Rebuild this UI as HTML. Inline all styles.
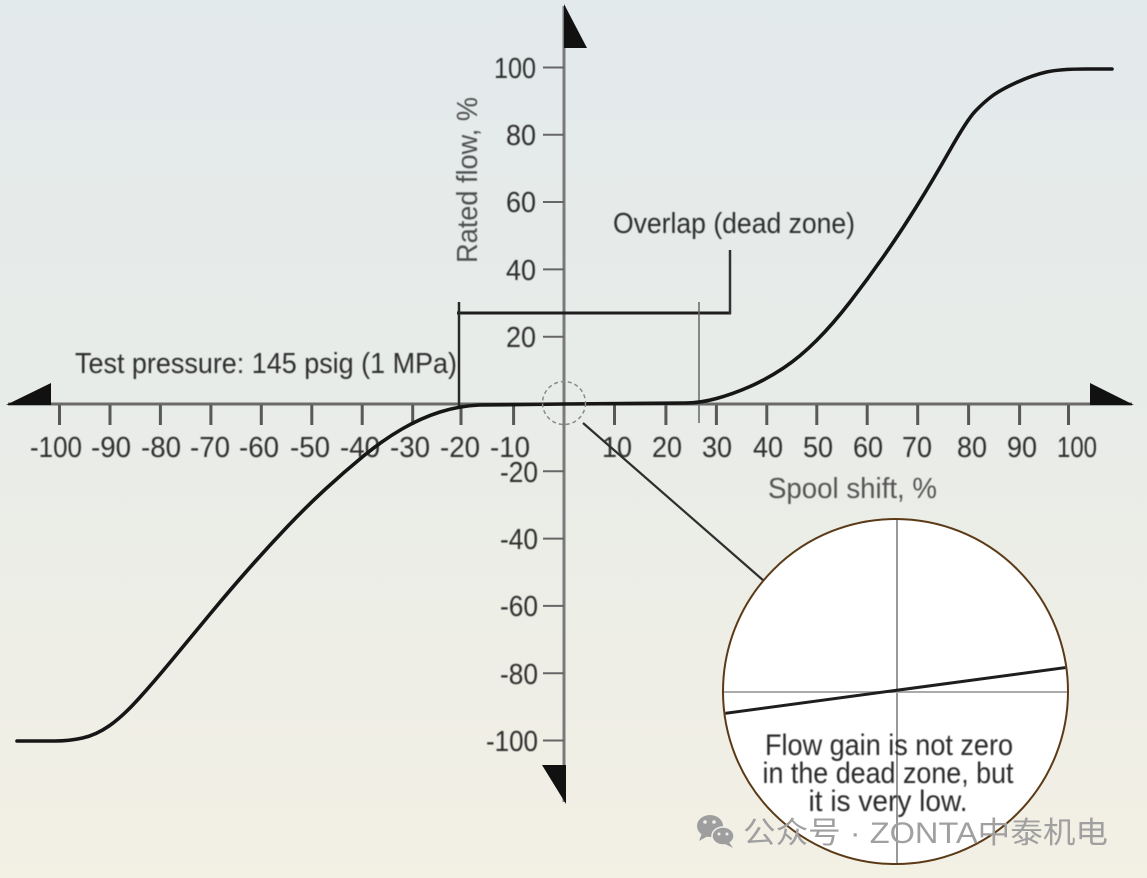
<!DOCTYPE html>
<html><head><meta charset="utf-8"><style>
html,body{margin:0;padding:0;}
body{width:1147px;height:878px;overflow:hidden;background:linear-gradient(180deg,#e3eaec 0%,#e9ece8 50%,#f3f0e4 100%);}
svg{display:block;}
text{font-family:"Liberation Sans","Noto Sans CJK SC",sans-serif;}
</style></head><body>
<svg width="1147" height="878" viewBox="0 0 1147 878" xmlns="http://www.w3.org/2000/svg">
<defs>
<clipPath id="cc"><circle cx="895.5" cy="691.5" r="171.5"/></clipPath>
<filter id="bl" x="-5%" y="-5%" width="110%" height="110%"><feGaussianBlur stdDeviation="0.55"/></filter>
</defs>

<!-- axes -->
<line x1="8" y1="404" x2="1132" y2="404" stroke="#6a6a6a" stroke-width="3"/>
<line x1="564" y1="6" x2="564" y2="802" stroke="#7a7a7a" stroke-width="3"/>
<polygon points="6,405 51,383 51,405" fill="#111"/>
<polygon points="1090,383 1134,405 1090,405" fill="#111"/>
<polygon points="564,4 587,48 564,48" fill="#111"/>
<polygon points="542,765 566,765 566,804" fill="#111"/>

<!-- x ticks -->
<g stroke="#585858" stroke-width="3">
<line x1="59.5" y1="405" x2="59.5" y2="425"/><line x1="110" y1="405" x2="110" y2="425"/>
<line x1="160.4" y1="405" x2="160.4" y2="425"/><line x1="210.9" y1="405" x2="210.9" y2="425"/>
<line x1="261.3" y1="405" x2="261.3" y2="425"/><line x1="311.8" y1="405" x2="311.8" y2="425"/>
<line x1="362.2" y1="405" x2="362.2" y2="425"/><line x1="412.7" y1="405" x2="412.7" y2="425"/>
<line x1="461" y1="405" x2="461" y2="425"/><line x1="513.6" y1="405" x2="513.6" y2="425"/>
<line x1="614.5" y1="405" x2="614.5" y2="425"/><line x1="665.9" y1="405" x2="665.9" y2="425"/>
<line x1="716.4" y1="405" x2="716.4" y2="425"/><line x1="766.8" y1="405" x2="766.8" y2="425"/>
<line x1="816.8" y1="405" x2="816.8" y2="425"/><line x1="867.2" y1="405" x2="867.2" y2="425"/>
<line x1="917.7" y1="405" x2="917.7" y2="425"/><line x1="968.6" y1="405" x2="968.6" y2="425"/>
<line x1="1019.6" y1="405" x2="1019.6" y2="425"/><line x1="1068.5" y1="405" x2="1068.5" y2="425"/>
</g>
<!-- y ticks -->
<g stroke="#666" stroke-width="2">
<line x1="543" y1="67.5" x2="564" y2="67.5"/><line x1="543" y1="134.8" x2="564" y2="134.8"/>
<line x1="543" y1="202" x2="564" y2="202"/><line x1="543" y1="269.4" x2="564" y2="269.4"/>
<line x1="543" y1="336.7" x2="564" y2="336.7"/><line x1="543" y1="471.3" x2="564" y2="471.3"/>
<line x1="543" y1="538.6" x2="564" y2="538.6"/><line x1="543" y1="605.9" x2="564" y2="605.9"/>
<line x1="543" y1="673.2" x2="564" y2="673.2"/><line x1="543" y1="740.5" x2="564" y2="740.5"/>
</g>

<g filter="url(#bl)" fill="#2e2e2e" font-size="29">
<!-- x labels -->
<g text-anchor="middle">
<text x="56" y="457" textLength="52" lengthAdjust="spacingAndGlyphs">-100</text>
<text x="111" y="457" textLength="40" lengthAdjust="spacingAndGlyphs">-90</text>
<text x="161" y="457" textLength="40" lengthAdjust="spacingAndGlyphs">-80</text>
<text x="210" y="457" textLength="40" lengthAdjust="spacingAndGlyphs">-70</text>
<text x="259" y="457" textLength="40" lengthAdjust="spacingAndGlyphs">-60</text>
<text x="310" y="457" textLength="40" lengthAdjust="spacingAndGlyphs">-50</text>
<text x="360" y="457" textLength="40" lengthAdjust="spacingAndGlyphs">-40</text>
<text x="410" y="457" textLength="40" lengthAdjust="spacingAndGlyphs">-30</text>
<text x="460" y="457" textLength="40" lengthAdjust="spacingAndGlyphs">-20</text>
<text x="510" y="457" textLength="40" lengthAdjust="spacingAndGlyphs">-10</text>
<text x="617" y="457" textLength="30" lengthAdjust="spacingAndGlyphs">10</text>
<text x="667" y="457" textLength="30" lengthAdjust="spacingAndGlyphs">20</text>
<text x="717" y="457" textLength="30" lengthAdjust="spacingAndGlyphs">30</text>
<text x="768" y="457" textLength="30" lengthAdjust="spacingAndGlyphs">40</text>
<text x="818" y="457" textLength="30" lengthAdjust="spacingAndGlyphs">50</text>
<text x="868" y="457" textLength="30" lengthAdjust="spacingAndGlyphs">60</text>
<text x="917" y="457" textLength="30" lengthAdjust="spacingAndGlyphs">70</text>
<text x="972" y="457" textLength="30" lengthAdjust="spacingAndGlyphs">80</text>
<text x="1022" y="457" textLength="30" lengthAdjust="spacingAndGlyphs">90</text>
<text x="1077" y="457" textLength="40" lengthAdjust="spacingAndGlyphs">100</text>
</g>
<!-- y labels -->
<g text-anchor="end">
<text x="536" y="78" textLength="42" lengthAdjust="spacingAndGlyphs">100</text>
<text x="536" y="145" textLength="30" lengthAdjust="spacingAndGlyphs">80</text>
<text x="536" y="212" textLength="30" lengthAdjust="spacingAndGlyphs">60</text>
<text x="536" y="280" textLength="30" lengthAdjust="spacingAndGlyphs">40</text>
<text x="536" y="347" textLength="30" lengthAdjust="spacingAndGlyphs">20</text>
<text x="538" y="482" textLength="38" lengthAdjust="spacingAndGlyphs">-20</text>
<text x="538" y="549" textLength="38" lengthAdjust="spacingAndGlyphs">-40</text>
<text x="538" y="616" textLength="38" lengthAdjust="spacingAndGlyphs">-60</text>
<text x="538" y="684" textLength="38" lengthAdjust="spacingAndGlyphs">-80</text>
<text x="538" y="751" textLength="52" lengthAdjust="spacingAndGlyphs">-100</text>
</g>
<text x="75" y="373" textLength="382" lengthAdjust="spacingAndGlyphs">Test pressure: 145 psig (1 MPa)</text>
<text x="613" y="233" textLength="242" lengthAdjust="spacingAndGlyphs">Overlap (dead zone)</text>
<text transform="translate(477,180) rotate(-90)" text-anchor="middle" fill="#505050" textLength="166" lengthAdjust="spacingAndGlyphs">Rated flow, %</text>
<text x="768" y="498" fill="#555" textLength="169" lengthAdjust="spacingAndGlyphs">Spool shift, %</text>
</g>

<!-- bracket -->
<line x1="457" y1="313" x2="731" y2="313" stroke="#1e1e1e" stroke-width="3"/>
<line x1="459" y1="302" x2="459" y2="407" stroke="#2a2a2a" stroke-width="2.5"/>
<line x1="730" y1="250" x2="730" y2="314" stroke="#333" stroke-width="2.5"/>
<line x1="699" y1="302" x2="699" y2="423" stroke="#666" stroke-width="1.5"/>

<!-- curve -->
<path d="M17,741 L55,741 Q69,741 82.5,738 Q96,735 109,726 Q122,717 137.5,700 Q153,683 172,660 Q191,637 210.5,613.5 Q230,590 249,568.5 Q268,547 287,527 Q306,507 325,489.5 Q344,472 363.5,456 Q383,440 402,429 Q421,418 440,412 Q459,406 479.5,405 L564,404 L686,403 Q700,403 716.5,398.5 Q733,394 750,386.5 Q767,379 783.5,368 Q800,357 816.5,340.5 Q833,324 850,302 Q867,280 883.5,256.5 Q900,233 916.5,206.5 Q933,180 950,150 Q967,120 975,111.5 Q983,103 991.5,96.5 Q1000,90 1016.5,82.5 Q1033,75 1046.5,72 Q1060,69 1086,69 L1112,69" fill="none" stroke="#161616" stroke-width="3.6" stroke-linejoin="round" stroke-linecap="round"/>

<!-- small dashed circle + connector -->
<circle cx="564" cy="403" r="21.5" fill="none" stroke="#8a8a8a" stroke-width="1.5" stroke-dasharray="4 3"/>
<line x1="583" y1="423" x2="764" y2="581" stroke="#2e2e2e" stroke-width="2.2"/>

<!-- magnifier -->
<circle cx="895.5" cy="691.5" r="172.5" fill="#fff"/>
<g clip-path="url(#cc)">
<line x1="897" y1="515" x2="897" y2="870" stroke="#999" stroke-width="2"/>
<line x1="720" y1="692" x2="1070" y2="692" stroke="#aaa" stroke-width="2"/>
<line x1="720" y1="714" x2="1070" y2="667" stroke="#1e1e1e" stroke-width="3"/>
</g>
<circle cx="895.5" cy="691.5" r="172.5" fill="none" stroke="#5b3a17" stroke-width="2"/>
<g filter="url(#bl)" fill="#2a2a2a" font-size="30" text-anchor="middle">
<text x="889" y="755" textLength="248" lengthAdjust="spacingAndGlyphs">Flow gain is not zero</text>
<text x="888" y="783" textLength="251" lengthAdjust="spacingAndGlyphs">in the dead zone, but</text>
<text x="888" y="811" textLength="159" lengthAdjust="spacingAndGlyphs">it is very low.</text>
</g>

<!-- watermark -->
<g fill="#9e9e9e">
<ellipse cx="710" cy="826" rx="13" ry="11"/>
<polygon points="702,833 699,841 708,836"/>
<ellipse cx="723" cy="836" rx="11" ry="9" stroke="#f0efe8" stroke-width="1.5"/>
<polygon points="729,842 733,848 725,844"/>
</g>
<g fill="#f0efe8">
<circle cx="705" cy="822" r="1.8"/><circle cx="714" cy="822" r="1.8"/>
<circle cx="719" cy="834" r="1.5"/><circle cx="727" cy="834" r="1.5"/>
</g>
<text x="743" y="843" font-size="30" fill="#a0a0a0" textLength="365" lengthAdjust="spacingAndGlyphs">公众号 · ZONTA中泰机电</text>
</svg>
</body></html>
